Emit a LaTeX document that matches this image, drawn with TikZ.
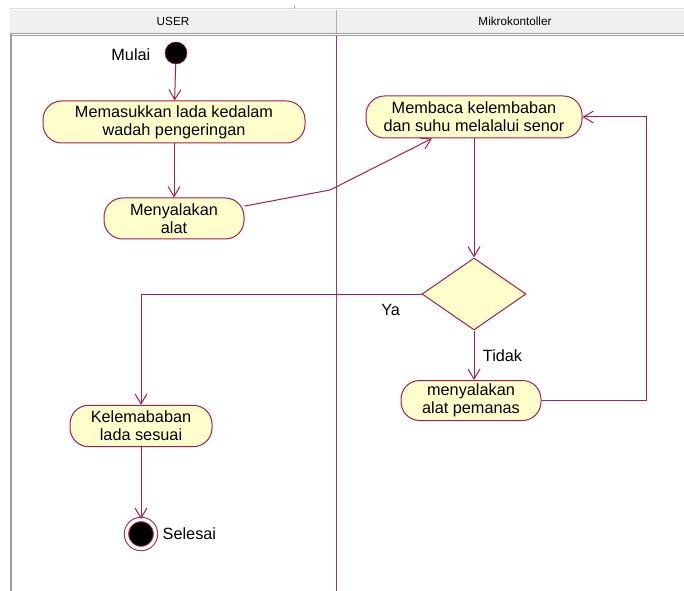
\documentclass[tikz,border=0pt]{standalone}
\usepackage{fontspec}
\setmainfont{Liberation Sans}
\usetikzlibrary{arrows.meta,shapes.geometric}
\definecolor{umlline}{RGB}{165,30,80}
\definecolor{umlfill}{RGB}{255,255,204}
\definecolor{lanebar}{RGB}{240,240,240}

\begin{document}
\begin{tikzpicture}[x=0.75pt, y=-0.75pt,
            every node/.style={font=\fontsize{12.2}{13.5}\selectfont},
            header/.style={font=\fontsize{8.8}{10}\selectfont},
            activity/.style={draw=umlline, fill=umlfill, line width=0.75pt, rounded corners=14pt, align=center, inner sep=0pt},
            decision/.style={draw=umlline, fill=umlfill, line width=0.75pt, diamond, inner sep=0pt, minimum width=78pt, minimum height=54pt},
            flow/.style={draw=umlline, line width=0.75pt, -{Straight Barb[length=7.5pt, width=9pt]}}]
            \useasboundingbox (0,0) rectangle (684,591);
            \fill[lanebar] (10,10) rectangle (684,33);
            \draw[gray!30] (10,8) -- (684,8);
            \draw[gray!60] (294,5) -- (294,9);
            \draw[gray!60] (336,10) -- (336,33);
            \draw[gray!75, line width=0.75pt] (10,33.5) -- (684,33.5);
            \draw[gray!75, line width=0.75pt] (10,35.5) -- (684,35.5);
            \draw[gray!75, line width=1.5pt] (11,34) -- (11,591);
            \draw[umlline!90!white, line width=0.75pt] (336,36) -- (336,591);
            \node[header] (userlbl) at (173,21) {USER};
            \node[header] (mikrolbl) at (515,21) {Mikrokontoller};

            \node[circle, fill=black, draw=umlline, minimum size=16.5pt, inner sep=0pt] (init) at (176,53) {};
            \node[anchor=east] (mulai) at (155,55) {Mulai};
            \node[activity, minimum width=196.5pt, minimum height=31.5pt] (act1) at (174,122) {Memasukkan lada kedalam\\wadah pengeringan};
            \node[activity, minimum width=105pt, minimum height=30.75pt] (act2) at (174,218.5) {Menyalakan\\alat};
            \node[activity, minimum width=162pt, minimum height=31.5pt] (act3) at (474,117) {Membaca kelembaban\\dan suhu melalalui senor};
            \node[decision] (dec) at (474,294) {};
            \node[activity, minimum width=105pt, minimum height=30pt] (act4) at (471,400.5) {menyalakan\\alat pemanas};
            \node[activity, minimum width=106.5pt, minimum height=31pt] (act5) at (141,426) {Kelemababan\\lada sesuai};
            \node[circle, draw=umlline, line width=0.75pt, double=white, double distance=2.5pt, fill=black, minimum size=21.75pt, inner sep=0pt] (final) at (141,534) {};
            \node[anchor=west] (selesai) at (158,534) {Selesai};

            \coordinate (bend) at (330,190);
            \coordinate (loopx) at (646,0);
            \draw[flow] (init) -- (act1);
            \draw[flow] (act1) -- (act2);
            \draw[flow] (act2.10) -- (bend) -- ([xshift=-31.5pt]act3.south);
            \draw[flow] (act3) -- (dec);
            \draw[flow] (dec.west) -| (act5.north) node[pos=0.055, below=4pt] (ya) {Ya};
            \draw[flow] (dec.south) -- (dec.south |- act4.north) node[midway, right=3pt] (tidak) {Tidak};
            \draw[flow] (act4.east) -- (loopx |- act4.east) -- (loopx |- act3.east) -- (act3.east);
            \draw[flow] (act5) -- (final);
        \end{tikzpicture}
\end{document}
